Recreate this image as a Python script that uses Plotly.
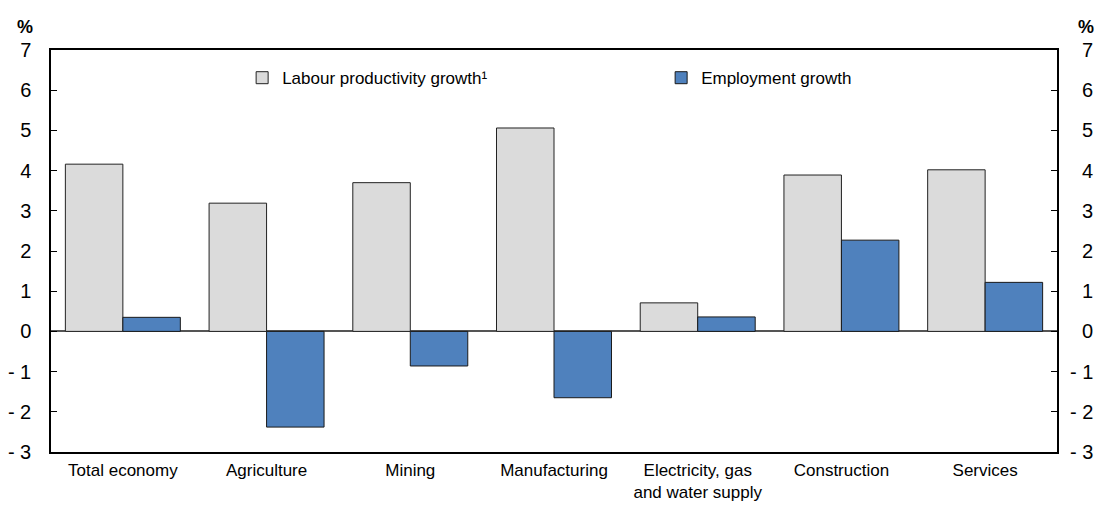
import plotly.graph_objects as go

categories = ["Total economy", "Agriculture", "Mining", "Manufacturing",
              "Electricity, gas<br>and water supply", "Construction", "Services"]
labour_productivity = [4.16, 3.19, 3.70, 5.06, 0.71, 3.89, 4.02]
employment = [0.35, -2.38, -0.86, -1.65, 0.36, 2.27, 1.22]
series_names = ["Labour productivity growth¹", "Employment growth"]
tick_vals = [-3, -2, -1, 0, 1, 2, 3, 4, 5, 6, 7]
tick_text = ["- 3", "- 2", "- 1", "0", "1", "2", "3", "4", "5", "6", "7"]

FONT = "Liberation Sans, Arial, sans-serif"
GRAY = "#dbdbdb"
BLUE = "#4f81bd"

fig = go.Figure()
fig.add_trace(go.Bar(x=categories, y=labour_productivity, name=series_names[0],
                     marker=dict(color=GRAY, line=dict(color="#222222", width=1))))
fig.add_trace(go.Bar(x=categories, y=employment, name=series_names[1],
                     marker=dict(color=BLUE, line=dict(color="#1a1a1a", width=1))))

annotations = []
for v, t in zip(tick_vals, tick_text):
    annotations.append(dict(x=1, xref="paper", y=v, yref="y", xanchor="right",
                            xshift=38, text=t, showarrow=False,
                            font=dict(family=FONT, size=20, color="#000")))
annotations.append(dict(x=0, xref="paper", y=1, yref="paper", xanchor="right",
                        yanchor="middle", xshift=-16, yshift=23, text="<b>%</b>",
                        showarrow=False, font=dict(family=FONT, size=18, color="#000")))
annotations.append(dict(x=1, xref="paper", y=1, yref="paper", xanchor="right",
                        yanchor="middle", xshift=39, yshift=23, text="<b>%</b>",
                        showarrow=False, font=dict(family=FONT, size=18, color="#000")))

fig.update_layout(
    width=1099, height=507, autosize=False,
    margin=dict(l=51, r=42, t=50, b=55),
    paper_bgcolor="white", plot_bgcolor="white",
    barmode="group", bargap=0.2, bargroupgap=0,
    font=dict(family=FONT, size=17, color="#000"),
    showlegend=True,
    legend=dict(orientation="h", x=0.19, y=0.93, xanchor="left", yanchor="middle",
                bgcolor="rgba(0,0,0,0)", font=dict(family=FONT, size=17, color="#000"),
                entrywidth=374, entrywidthmode="pixels", itemwidth=30),
    annotations=annotations,
)
fig.update_xaxes(showline=True, linecolor="#000", linewidth=1.5, mirror=True,
                 ticks="", showgrid=False, tickfont=dict(family=FONT, size=17),
                 tickangle=0, automargin=False, ticklabelstandoff=2)
fig.update_yaxes(range=[-3, 7], tickvals=tick_vals, ticktext=tick_text,
                 ticks="inside", ticklen=6, tickwidth=1, tickcolor="#000",
                 showline=True, linecolor="#000", linewidth=1.5, mirror="ticks",
                 showgrid=False, zeroline=True, zerolinecolor="#555", zerolinewidth=1.5,
                 tickfont=dict(family=FONT, size=20), ticklabelstandoff=14,
                 automargin=False)

fig.write_html(
    "out.html",
    config={"responsive": False, "displayModeBar": False},
    post_script="document.documentElement.style.margin='0';"
                "document.body.style.margin='0';"
                "document.body.style.overflow='hidden';",
)
